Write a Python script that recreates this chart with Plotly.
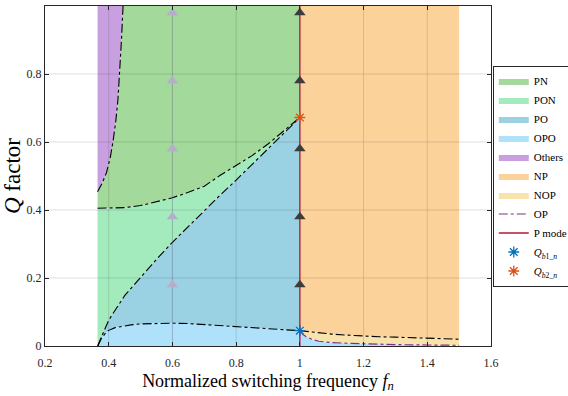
import numpy as np
import plotly.graph_objects as go

# ---------------- data ----------------
x_left = 0.365          # left edge of the coloured regions
x_right = 1.5           # right edge of the coloured regions
q_top = 1.0

# PN lower boundary (PN / PON border)
pn_x = [0.365, 0.40, 0.45, 0.50, 0.55, 0.60, 0.65, 0.70, 0.75, 0.80, 0.85, 0.90, 0.95, 1.0]
pn_y = [0.405, 0.405, 0.407, 0.413, 0.424, 0.436, 0.452, 0.470, 0.502, 0.530, 0.560, 0.594, 0.632, 0.672]

# PON lower boundary (PON / PO border)
pon_x = [0.365, 0.38, 0.40, 0.45, 0.50, 0.55, 0.60, 0.65, 0.70, 0.75, 0.80, 0.85, 0.90, 0.95, 1.0]
pon_y = [0.0, 0.035, 0.076, 0.148, 0.202, 0.255, 0.305, 0.352, 0.400, 0.444, 0.488, 0.534, 0.580, 0.626, 0.672]

# OPO upper boundary (PO / OPO border)
opo_x = [0.366, 0.377, 0.39, 0.40, 0.42, 0.445, 0.47, 0.50, 0.55, 0.60, 0.65, 0.70, 0.75, 0.80, 0.85, 0.90, 0.95, 1.0]
opo_y = [0.0, 0.022, 0.038, 0.046, 0.054, 0.059, 0.062, 0.065, 0.067, 0.067, 0.066, 0.063, 0.060, 0.057, 0.054, 0.051, 0.048, 0.045]

# Others boundary (Others / PN border)
oth_x = [0.365, 0.38, 0.393, 0.405, 0.414, 0.422, 0.429, 0.435, 0.44, 0.445]
oth_y = [0.454, 0.48, 0.51, 0.555, 0.605, 0.66, 0.725, 0.805, 0.90, 1.0]

# NP lower boundary (NP / NOP border), f_n > 1
np_x = [1.0, 1.05, 1.1, 1.15, 1.2, 1.25, 1.3, 1.35, 1.4, 1.45, 1.5]
np_y = [0.045, 0.039, 0.035, 0.032, 0.029, 0.027, 0.026, 0.024, 0.023, 0.021, 0.020]

# OP curve (NOP / OPO border), f_n > 1
op_x = [1.0, 1.01, 1.02, 1.04, 1.06, 1.1, 1.15, 1.2, 1.25, 1.3, 1.4, 1.5]
op_y = [0.045, 0.034, 0.027, 0.019, 0.014, 0.010, 0.008, 0.006, 0.005, 0.004, 0.003, 0.002]

# P mode line and markers
p_mode_x = 1.0
arrow_q = [0.18, 0.38, 0.58, 0.78, 0.98]
arrow_f_light = 0.6
qb1 = (1.0, 0.045)
qb2 = (1.0, 0.672)

xticks = [0.2, 0.4, 0.6, 0.8, 1.0, 1.2, 1.4, 1.6]
xtick_text = ["0.2", "0.4", "0.6", "0.8", "1", "1.2", "1.4", "1.6"]
yticks = [0, 0.2, 0.4, 0.6, 0.8, 1.0]
ytick_text = ["0", "0.2", "0.4", "0.6", "0.8", "1"]

colors = {
    "PN": "#a3d99a", "PON": "#a3ebbd", "PO": "#9ad1e3", "OPO": "#b0e1fb",
    "Others": "#c9a0df", "NP": "#fcd29b", "NOP": "#f8e3ad",
}
FONT = "Liberation Serif, Times New Roman, serif"

# ---------------- region polygons ----------------
A = np.asarray
regions = {}
regions["PON"] = (
    np.concatenate([[x_left], A(pn_x), A(pon_x)[::-1]]),
    np.concatenate([[0.0], A(pn_y), A(pon_y)[::-1]]),
)
regions["PO"] = (
    np.concatenate([A(pon_x), A(opo_x)[::-1]]),
    np.concatenate([A(pon_y), A(opo_y)[::-1]]),
)
regions["OPO"] = (
    np.concatenate([A(opo_x), A(op_x), [x_right, x_left]]),
    np.concatenate([A(opo_y), A(op_y), [0.0, 0.0]]),
)
regions["PN"] = (
    np.concatenate([A(pn_x), [p_mode_x], A(oth_x)[::-1]]),
    np.concatenate([A(pn_y), [q_top], A(oth_y)[::-1]]),
)
regions["Others"] = (
    np.concatenate([A(oth_x), [x_left]]),
    np.concatenate([A(oth_y), [q_top]]),
)
regions["NP"] = (
    np.concatenate([A(np_x), [x_right, p_mode_x]]),
    np.concatenate([A(np_y), [q_top, q_top]]),
)
regions["NOP"] = (
    np.concatenate([A(np_x), A(op_x)[::-1]]),
    np.concatenate([A(np_y), A(op_y)[::-1]]),
)

legend_order = ["PN", "PON", "PO", "OPO", "Others", "NP", "NOP"]
draw_order = ["PON", "PO", "OPO", "PN", "Others", "NP", "NOP"]

fig = go.Figure()
for name in draw_order:
    xs, ys = regions[name]
    fig.add_trace(go.Scatter(
        x=xs, y=ys, mode="lines", fill="toself", fillcolor=colors[name],
        line=dict(width=0, color=colors[name]), name=name,
        legendrank=legend_order.index(name) + 1, hoverinfo="skip",
    ))

# grid lines drawn above the fills
gx, gy = [], []
for xv in xticks[1:-1]:
    gx += [xv, xv, None]
    gy += [yticks[0], yticks[-1], None]
for yv in yticks[1:-1]:
    gx += [xticks[0], xticks[-1], None]
    gy += [yv, yv, None]
fig.add_trace(go.Scatter(x=gx, y=gy, mode="lines", showlegend=False,
                         line=dict(color="rgba(0,0,0,0.13)", width=1), hoverinfo="skip"))

# black boundary curves
for cx, cy in [(pn_x, pn_y), (pon_x, pon_y), (opo_x, opo_y), (oth_x, oth_y), (np_x, np_y)]:
    fig.add_trace(go.Scatter(x=cx, y=cy, mode="lines", showlegend=False,
                             line=dict(color="black", width=1.1, dash="dashdot"), hoverinfo="skip"))

# light arrows at f_n = 0.6
fig.add_trace(go.Scatter(x=[arrow_f_light, arrow_f_light], y=[0, q_top], mode="lines",
                         showlegend=False, line=dict(color="rgba(130,110,170,0.22)", width=1),
                         hoverinfo="skip"))
fig.add_trace(go.Scatter(x=[arrow_f_light] * len(arrow_q), y=arrow_q, mode="markers",
                         showlegend=False, marker=dict(symbol="triangle-up", size=10, color="#b6adca"),
                         hoverinfo="skip"))

# OP curve
fig.add_trace(go.Scatter(x=op_x, y=op_y, mode="lines", name="OP", legendrank=8,
                         line=dict(color="#7e2f8e", width=1.2, dash="dashdot")))
# P mode line
fig.add_trace(go.Scatter(x=[p_mode_x, p_mode_x], y=[0, q_top], mode="lines", name="P mode",
                         legendrank=9, line=dict(color="#b5173a", width=1.3)))
# dark arrows at f_n = 1
fig.add_trace(go.Scatter(x=[p_mode_x] * len(arrow_q), y=arrow_q, mode="markers",
                         showlegend=False, marker=dict(symbol="triangle-up", size=10, color="#3c3c3c"),
                         hoverinfo="skip"))
# Q boundaries
fig.add_trace(go.Scatter(x=[qb1[0]], y=[qb1[1]], mode="markers", legendrank=10,
                         name="<i>Q</i><sub><i>b</i>1_<i>n</i></sub>",
                         marker=dict(symbol="asterisk-open", size=9, color="#0072bd",
                                     line=dict(color="#0072bd", width=1.3))))
fig.add_trace(go.Scatter(x=[qb2[0]], y=[qb2[1]], mode="markers", legendrank=11,
                         name="<i>Q</i><sub><i>b</i>2_<i>n</i></sub>",
                         marker=dict(symbol="asterisk-open", size=9, color="#d95319",
                                     line=dict(color="#d95319", width=1.3))))

axis_common = dict(
    showgrid=False, zeroline=False, showline=True, linecolor="#262626", linewidth=1,
    mirror="allticks", ticks="inside", ticklen=4, tickcolor="#262626",
    tickfont=dict(family=FONT, size=12, color="#262626"),
)
fig.update_layout(
    width=568, height=396,
    margin=dict(l=45, r=77, t=6, b=50, autoexpand=False),
    paper_bgcolor="white", plot_bgcolor="white",
    font=dict(family=FONT, color="#262626"),
    xaxis=dict(range=[xticks[0], xticks[-1]], tickvals=xticks, ticktext=xtick_text,
               ticklabelstandoff=6,
               title=dict(text="Normalized switching frequency <i>f</i><sub><i>n</i></sub>",
                          font=dict(family=FONT, size=18, color="black"), standoff=4),
               **axis_common),
    yaxis=dict(range=[yticks[0], yticks[-1]], tickvals=yticks, ticktext=ytick_text,
               title=dict(text="<i>Q</i> factor", font=dict(family=FONT, size=23, color="black"),
                          standoff=4),
               **axis_common),
    legend=dict(x=1.004, y=0.5, xanchor="left", yanchor="middle",
                font=dict(family=FONT, size=11, color="black"),
                bordercolor="#262626", borderwidth=1, bgcolor="white",
                tracegroupgap=0, itemwidth=30),
    showlegend=True,
)

fig.write_html("out.html")
